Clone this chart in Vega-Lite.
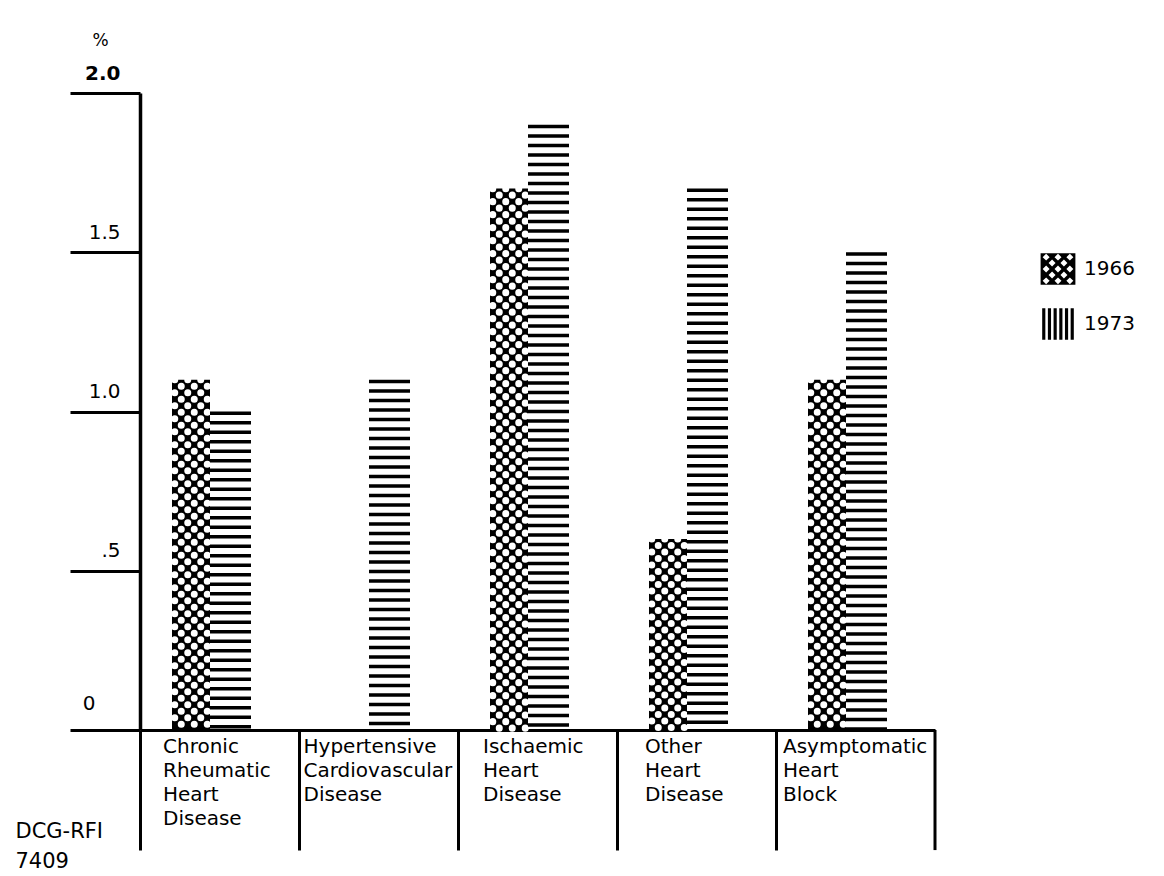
{
  "$schema": "https://vega.github.io/schema/vega-lite/v6.json",
  "width": 795,
  "height": 637,
  "autosize": {"type": "none"},
  "padding": {"left": 140, "top": 93, "right": 229, "bottom": 146},
  "background": "white",
  "config": {
    "font": "DejaVu Sans",
    "view": {"stroke": null},
    "axis": {"grid": false, "domainColor": "black", "tickColor": "black", "labelColor": "black", "titleColor": "black", "zindex": 1}
  },
  "data": {
    "values": [
      {"category": "Chronic Rheumatic Heart Disease", "year": "1966", "value": 1.1},
      {"category": "Chronic Rheumatic Heart Disease", "year": "1973", "value": 1.0},
      {"category": "Hypertensive Cardiovascular Disease", "year": "1966", "value": 0},
      {"category": "Hypertensive Cardiovascular Disease", "year": "1973", "value": 1.1},
      {"category": "Ischaemic Heart Disease", "year": "1966", "value": 1.7},
      {"category": "Ischaemic Heart Disease", "year": "1973", "value": 1.9},
      {"category": "Other Heart Disease", "year": "1966", "value": 0.6},
      {"category": "Other Heart Disease", "year": "1973", "value": 1.7},
      {"category": "Asymptomatic Heart Block", "year": "1966", "value": 1.1},
      {"category": "Asymptomatic Heart Block", "year": "1973", "value": 1.5}
    ]
  },
  "layer": [
    {
      "transform": [{"filter": "datum.year == '1966'"}],
      "mark": {"type": "rule", "color": "black", "strokeWidth": 38, "strokeCap": "butt", "xOffset": -28.5},
      "encoding": {
        "x": {
          "field": "category", "type": "nominal", "sort": null,
          "scale": {"domain": ["Chronic Rheumatic Heart Disease", "Hypertensive Cardiovascular Disease", "Ischaemic Heart Disease", "Other Heart Disease", "Asymptomatic Heart Block"], "paddingInner": 0, "paddingOuter": 0},
          "axis": {
            "title": ["DCG-RFI", "7409"], "titleX": -125, "titleY": 90, "titleAlign": "left", "titleBaseline": "top",
            "titleFontSize": 21, "titleFontWeight": "normal", "titleLineHeight": 30,
            "bandPosition": 0, "domainWidth": 3, "tickSize": 120, "tickWidth": 3,
            "labelAlign": "left", "labelBaseline": "top", "labelPadding": -114,
            "labelOffset": {
              "condition": [
                {"test": "datum.value == 'Chronic Rheumatic Heart Disease'", "value": -56.5},
                {"test": "datum.value == 'Hypertensive Cardiovascular Disease'", "value": -75},
                {"test": "datum.value == 'Ischaemic Heart Disease'", "value": -54.5},
                {"test": "datum.value == 'Other Heart Disease'", "value": -51.5}
              ],
              "value": -72.5
            },
            "labelFontSize": 20, "labelLineHeight": 24, "labelExpr": "split(datum.label, ' ')",
            "labelOverlap": false, "labelBound": false, "labelFlush": false, "labelAngle": 0, "labelLimit": 0
          }
        },
        "y": {
          "field": "value", "type": "quantitative",
          "scale": {"domain": [0, 2], "nice": false},
          "axis": {
            "title": "%", "titleAngle": 0, "titleX": -40, "titleY": -53, "titleAlign": "center", "titleBaseline": "middle",
            "titleFontSize": 17, "titleFontWeight": "normal",
            "values": [0, 0.5, 1, 1.5, 2],
            "labelExpr": "datum.value == 0 ? '0' : datum.value == 0.5 ? '.5' : format(datum.value, '.1f')",
            "domainWidth": 3.5, "tickSize": 70, "tickWidth": 3,
            "labelAlign": "right", "labelBaseline": "bottom",
            "labelOffset": {"condition": {"test": "datum.value == 0", "value": -17}, "value": -10},
            "labelPadding": {"condition": {"test": "datum.value == 0", "value": -25}, "value": -50},
            "labelFontWeight": {"condition": {"test": "datum.value == 2", "value": "bold"}, "value": "normal"},
            "labelFontSize": 20, "labelOverlap": false, "labelBound": false, "labelFlush": false
          }
        },
        "y2": {"datum": 0}
      }
    },
    {
      "transform": [{"filter": "datum.year == '1966' && datum.value > 0"}],
      "mark": {"type": "rule", "color": "white", "strokeWidth": 7, "strokeCap": "round", "strokeDash": [0.1, 12.9], "strokeDashOffset": 0, "xOffset": -44.75},
      "encoding": {"x": {"field": "category", "type": "nominal"}, "y": {"field": "value", "type": "quantitative"}, "y2": {"datum": 0}}
    },
    {
      "transform": [{"filter": "datum.year == '1966' && datum.value > 0"}],
      "mark": {"type": "rule", "color": "white", "strokeWidth": 7, "strokeCap": "round", "strokeDash": [0.1, 12.9], "strokeDashOffset": 6.5, "xOffset": -38.25},
      "encoding": {"x": {"field": "category", "type": "nominal"}, "y": {"field": "value", "type": "quantitative"}, "y2": {"datum": 0}}
    },
    {
      "transform": [{"filter": "datum.year == '1966' && datum.value > 0"}],
      "mark": {"type": "rule", "color": "white", "strokeWidth": 7, "strokeCap": "round", "strokeDash": [0.1, 12.9], "strokeDashOffset": 0, "xOffset": -31.75},
      "encoding": {"x": {"field": "category", "type": "nominal"}, "y": {"field": "value", "type": "quantitative"}, "y2": {"datum": 0}}
    },
    {
      "transform": [{"filter": "datum.year == '1966' && datum.value > 0"}],
      "mark": {"type": "rule", "color": "white", "strokeWidth": 7, "strokeCap": "round", "strokeDash": [0.1, 12.9], "strokeDashOffset": 6.5, "xOffset": -25.25},
      "encoding": {"x": {"field": "category", "type": "nominal"}, "y": {"field": "value", "type": "quantitative"}, "y2": {"datum": 0}}
    },
    {
      "transform": [{"filter": "datum.year == '1966' && datum.value > 0"}],
      "mark": {"type": "rule", "color": "white", "strokeWidth": 7, "strokeCap": "round", "strokeDash": [0.1, 12.9], "strokeDashOffset": 0, "xOffset": -18.75},
      "encoding": {"x": {"field": "category", "type": "nominal"}, "y": {"field": "value", "type": "quantitative"}, "y2": {"datum": 0}}
    },
    {
      "transform": [{"filter": "datum.year == '1966' && datum.value > 0"}],
      "mark": {"type": "rule", "color": "white", "strokeWidth": 7, "strokeCap": "round", "strokeDash": [0.1, 12.9], "strokeDashOffset": 6.5, "xOffset": -12.25},
      "encoding": {"x": {"field": "category", "type": "nominal"}, "y": {"field": "value", "type": "quantitative"}, "y2": {"datum": 0}}
    },
    {
      "transform": [{"filter": "datum.year == '1973'"}],
      "mark": {"type": "rule", "color": "black", "strokeWidth": 41, "strokeCap": "butt", "strokeDash": [3.5, 6], "xOffset": 11},
      "encoding": {"x": {"field": "category", "type": "nominal"}, "y": {"field": "value", "type": "quantitative"}, "y2": {"datum": 0}}
    },
    {
      "mark": {"type": "point", "filled": true, "color": "black", "size": 0, "opacity": 1},
      "encoding": {
        "x": {"field": "category", "type": "nominal"},
        "y": {"field": "value", "type": "quantitative"},
        "shape": {
          "field": "year", "type": "nominal",
          "scale": {
            "domain": ["1966", "1973"],
            "range": [
              "M-1.1,-1H1.1V1H-1.1ZM-0.75,-0.97L-0.97,-0.75L-0.75,-0.53L-0.53,-0.75ZM0,-0.97L-0.22,-0.75L0,-0.53L0.22,-0.75ZM0.75,-0.97L0.53,-0.75L0.75,-0.53L0.97,-0.75ZM-0.375,-0.595L-0.595,-0.375L-0.375,-0.155L-0.155,-0.375ZM0.375,-0.595L0.155,-0.375L0.375,-0.155L0.595,-0.375ZM-0.75,-0.22L-0.97,0L-0.75,0.22L-0.53,0ZM0,-0.22L-0.22,0L0,0.22L0.22,0ZM0.75,-0.22L0.53,0L0.75,0.22L0.97,0ZM-0.375,0.155L-0.595,0.375L-0.375,0.595L-0.155,0.375ZM0.375,0.155L0.155,0.375L0.375,0.595L0.595,0.375ZM-0.75,0.53L-0.97,0.75L-0.75,0.97L-0.53,0.75ZM0,0.53L-0.22,0.75L0,0.97L0.22,0.75ZM0.75,0.53L0.53,0.75L0.75,0.97L0.97,0.75Z",
              "M-1,-1H-0.8V1H-1ZM-0.64,-1H-0.44V1H-0.64ZM-0.28,-1H-0.08V1H-0.28ZM0.08,-1H0.28V1H0.08ZM0.44,-1H0.64V1H0.44ZM0.8,-1H1V1H0.8Z"
            ]
          },
          "legend": {
            "title": null, "orient": "none", "legendX": 902, "legendY": 160,
            "symbolSize": 1000, "symbolFillColor": "black", "symbolStrokeWidth": 0, "symbolOpacity": 1,
            "labelFontSize": 20, "labelOffset": 10, "rowPadding": 23, "padding": 0, "labelColor": "black"
          }
        }
      }
    },
    {
      "transform": [{"filter": "datum.category == 'Asymptomatic Heart Block' && datum.year == '1973'"}],
      "mark": {"type": "rule", "color": "black", "strokeWidth": 3},
      "encoding": {
        "x": {"field": "category", "type": "nominal", "bandPosition": 1},
        "y": {"datum": 0, "type": "quantitative"},
        "y2": {"datum": -0.377}
      }
    }
  ]
}
